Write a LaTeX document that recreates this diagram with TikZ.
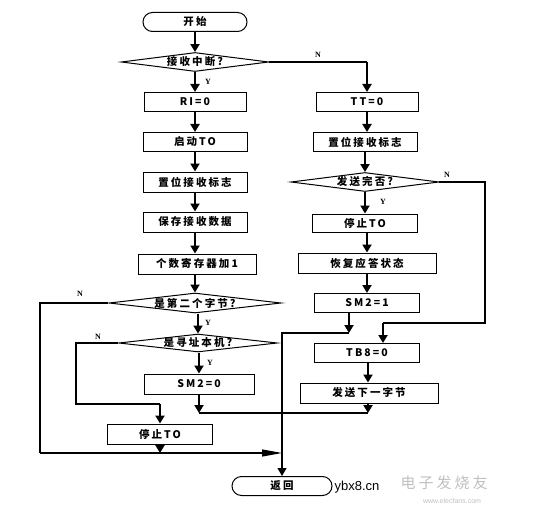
\documentclass[tikz,border=0pt]{standalone}
\usepackage{fontspec}
\setmainfont{Noto Sans CJK SC}[LetterSpace=20]
\newfontfamily\wmfont{Liberation Sans}
\newfontfamily\lblfont{Liberation Serif}
\usetikzlibrary{arrows.meta,positioning,calc,shapes.geometric}

\begin{document}
\begin{tikzpicture}[x=1pt,y=-1pt,
          box/.style={draw, line width=1pt, minimum width=104pt,
                      minimum height=19pt, inner sep=0pt,
                      font=\fontsize{10.5}{11}\selectfont\bfseries},
          term/.style={box, rounded corners=9.5pt},
          dec/.style={box, diamond, aspect=9},
          tip/.style={-{Triangle[length=8pt,width=9pt]}},
          arr/.style={tip, line width=2.2pt},
          lnk/.style={line width=1.1pt},
          lbl/.style={font=\lblfont\fontsize{8}{9}\selectfont\bfseries}
        ]
          \useasboundingbox (0,0) rectangle (535,516);
          \node[term] (start) at (195,22) {开始};
          \node[dec, minimum width=145pt] (q1) at (195,62) {接收中断?};
          \node[box, minimum width=102pt] (ri) at (195,102) {RI=0};
          \node[box, minimum width=102pt] (tt) at (367,102) {TT=0};
          \node[box] (t0) at (195,142) {启动TO};
          \node[box] (setr) at (365,142) {置位接收标志};
          \node[box, minimum height=20pt] (setl) at (195,182) {置位接收标志};
          \node[dec, minimum width=144pt] (q2) at (365,182) {发送完否?};
          \node[box, minimum height=20pt] (save) at (195,222) {保存接收数据};
          \node[box, minimum width=105pt, minimum height=18pt] (stop1) at (365,223) {停止TO};
          \node[box, minimum width=118pt, minimum height=20pt] (cnt) at (197,264) {个数寄存器加1};
          \node[box, minimum width=138pt, minimum height=20pt] (rest) at (367,263) {恢复应答状态};
          \node[dec, minimum width=171pt, minimum height=20pt] (q3) at (195,303) {是第二个字节?};
          \node[box, minimum width=105pt] (sm1) at (367,303) {SM2=1};
          \node[dec, minimum width=143pt, minimum height=18pt] (q4) at (198,343) {是寻址本机?};
          \node[box, minimum width=105pt] (tb8) at (367,353) {TB8=0};
          \node[box, minimum width=110pt, minimum height=20pt] (sm0) at (199,384) {SM2=0};
          \node[box, minimum width=138pt, minimum height=20pt] (send) at (369,393) {发送下一字节};
          \node[box, minimum width=105pt, minimum height=20pt] (stop2) at (160,434) {停止TO};
          \node[term, minimum width=100pt] (ret) at (282,486) {返回};

          \coordinate (rb) at (485,323);
          \coordinate (rc) at (383,323);
          \coordinate (sj) at (349,333);
          \coordinate (jn) at (368,413);
          \coordinate (lb) at (40,453);
          \coordinate (nb) at (76,404);
          \coordinate (nc) at (160,404);

          \draw[arr] (start) -- (q1);
          \draw[arr] (q1) -- (ri);
          \draw[arr] (ri) -- (t0);
          \draw[arr] (t0) -- (setl);
          \draw[arr] (setl) -- (save);
          \draw[arr] (save) -- (cnt.north -| save);
          \draw[arr] (cnt.south -| q3) -- (q3);
          \draw[arr] (q3.south -| q4) -- (q4);
          \draw[arr] (q4.south -| sm0) -- (sm0);
          \draw[lnk] (q1.east) -- (q1.east -| tt);
          \draw[arr] (q1.east -| tt) -- (tt.north);
          \draw[arr] (tt) -- (setr.north -| tt);
          \draw[arr] (setr) -- (q2);
          \draw[arr] (q2) -- (stop1);
          \draw[arr] (stop1.south -| rest) -- (rest);
          \draw[arr] (rest) -- (sm1);
          \draw[lnk] (q2.east) -| (rb) -- (rc);
          \draw[arr] (rc) -- (tb8.north -| rc);
          \draw[arr] (sm1.south -| sj) -- (sj);
          \draw[lnk, tip] (sj) -| (ret.north);
          \draw[arr] (tb8.south -| jn) -- (send.north -| jn);
          \draw[arr] (send.south -| jn) -- (jn);
          \draw[arr] (sm0.south) -- (sm0.south |- jn);
          \draw[lnk] (sm0.south |- jn) -- (jn);
          \draw[lnk] (q4.west) -| (nb) -- (nc);
          \draw[arr] (nc) -- (stop2.north);
          \draw[arr] (stop2.south) -- (stop2.south |- lb);
          \draw[lnk] (q3.west) -| (lb);
          \draw[lnk, -{Triangle[length=20pt,width=7pt]}] (lb) -- (ret.north |- lb);

          \node[lbl] (n1) at (318,55) {N};
          \node[lbl] (y1) at (208,82) {Y};
          \node[lbl] (n2) at (447,175) {N};
          \node[lbl] (y2) at (383,202) {Y};
          \node[lbl] (n3) at (80,294) {N};
          \node[lbl] (y3) at (208,323) {Y};
          \node[lbl] (n4) at (98,337) {N};
          \node[lbl] (y4) at (210,363) {Y};

          \node[font=\wmfont\fontsize{13}{14}\selectfont] (wm) at (357,487) {ybx8.cn};
          \node[text=black!25, font=\fontsize{15}{16}\selectfont] (wm2) at (444,483) {电子发烧友};
          \node[text=black!25, font=\wmfont\fontsize{7}{8}\selectfont] (wm3) at (452,501) {www.elecfans.com};
        \end{tikzpicture}
\end{document}
